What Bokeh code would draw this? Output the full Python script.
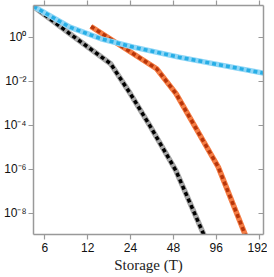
from bokeh.plotting import figure
from bokeh.models import LogAxis, FixedTicker, CustomJSTickFormatter, Range1d
from bokeh.embed import file_html
from bokeh.resources import INLINE

# x ticks (storage T) and y ticks (decades)
x_ticks = [6, 12, 24, 48, 96, 192]
y_ticks = [1e-8, 1e-6, 1e-4, 1e-2, 1]

# series
storage_black = [5, 9.0, 17.4, 23.9, 32.7, 49.9, 80]
prob_black = [26, 1.47, 0.064, 0.0028, 1e-4, 8.9e-7, 8e-10]

storage_blue = [5, 9.0, 14.9, 25.2, 52.5, 206]
prob_blue = [26, 2.94, 0.87, 0.362, 0.127, 0.0238]

storage_orange = [12.66, 36.6, 50.1, 99.2, 156]
prob_orange = [3.16, 0.0378, 0.00277, 1.26e-6, 8e-10]

AXIS_COLOR = "#999999"

p = figure(width=267, height=275, x_axis_type="log", y_axis_type="log",
           x_range=Range1d(5.0, 206), y_range=Range1d(1.08e-9, 28.5),
           output_backend="svg", toolbar_location=None,
           min_border_left=0, min_border_right=4, min_border_top=0, min_border_bottom=0)
p.grid.visible = False
p.outline_line_color = None
p.background_fill_color = "white"

sup_js = """
const sup = {'-':'\u207b','0':'\u2070','1':'\u00b9','2':'\u00b2','3':'\u00b3','4':'\u2074','5':'\u2075','6':'\u2076','7':'\u2077','8':'\u2078','9':'\u2079'};
const e = Math.round(Math.log10(tick));
return '10' + String(e).split('').map(c => sup[c]).join('');
"""

def style_axis(ax):
    ax.axis_line_color = AXIS_COLOR
    ax.axis_line_width = 1.5
    ax.major_tick_line_color = AXIS_COLOR
    ax.major_tick_line_width = 1.2
    ax.minor_tick_line_color = None
    ax.major_label_text_font = "Liberation Sans"
    ax.major_label_text_font_size = "12px"
    ax.major_label_text_color = "#111111"

# bottom axis
xa = p.xaxis[0]
style_axis(xa)
xa.ticker = FixedTicker(ticks=x_ticks)
xa.major_label_overrides = {t: str(t) for t in x_ticks}
xa.major_tick_out = 5
xa.major_tick_in = 0
xa.major_label_standoff = 3
xa.axis_label = "Storage (T)"
xa.axis_label_text_font = "Liberation Serif"
xa.axis_label_text_font_style = "normal"
xa.axis_label_text_font_size = "15px"
xa.axis_label_text_color = "#222222"
xa.axis_label_standoff = 2

# left axis
ya = p.yaxis[0]
style_axis(ya)
ya.ticker = FixedTicker(ticks=y_ticks)
ya.formatter = CustomJSTickFormatter(code=sup_js)
ya.major_tick_out = 5
ya.major_tick_in = 0
ya.major_label_standoff = 2

empty = CustomJSTickFormatter(code="return '';")

top = LogAxis(ticker=FixedTicker(ticks=x_ticks), formatter=empty)
style_axis(top)
top.major_tick_out = 5
top.major_tick_in = 0
top.major_label_standoff = 0
p.add_layout(top, "above")

right = LogAxis(ticker=FixedTicker(ticks=y_ticks), formatter=empty)
style_axis(right)
right.major_tick_out = 0
right.major_tick_in = 5
right.major_label_standoff = 0
p.add_layout(right, "right")

series = [
    (storage_black, prob_black, "#a6a6a6", "#000000"),
    (storage_orange, prob_orange, "#f47c44", "#b8360a"),
    (storage_blue, prob_blue, "#8fd6f6", "#27aee6"),
]
for xs, ys, under, dots in series:
    p.line(xs, ys, line_color=under, line_width=5.5, line_join="round")
    p.line(xs, ys, line_color=dots, line_width=3.5, line_dash="4 3")

open("out.html", "w").write(file_html(p, INLINE))
